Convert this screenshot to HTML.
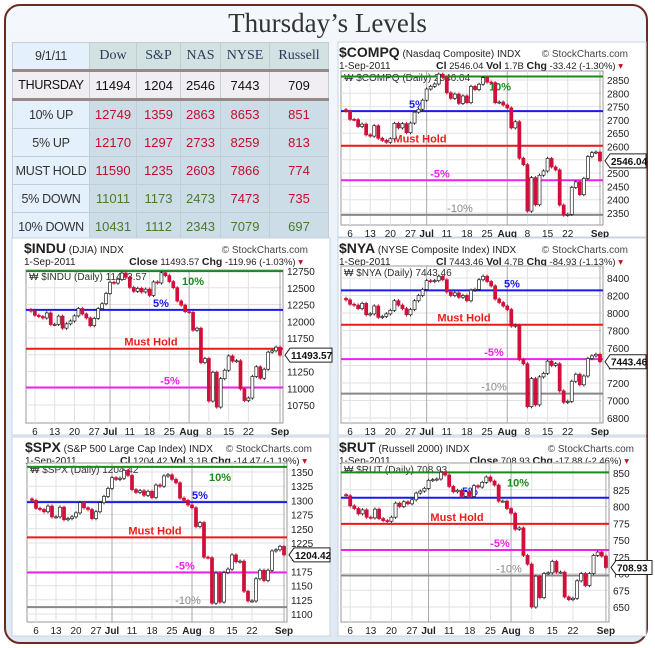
<!DOCTYPE html>
<html><head><meta charset="utf-8">
<style>
body{margin:0;width:655px;height:648px;overflow:hidden;background:#fff;font-family:"Liberation Sans",sans-serif;}
#frame{position:absolute;left:4px;top:4px;width:640px;height:636px;border:2px solid #6a2a20;border-radius:16px;background:linear-gradient(#f4f8fc,#dfe9f4);}
#title{position:absolute;left:0;top:8px;width:655px;text-align:center;font-family:"Liberation Serif",serif;font-size:27px;color:#333;}
table{position:absolute;left:12px;top:42px;border-collapse:collapse;width:316px;font-size:13px;table-layout:fixed;}
td{border:1px solid #c4ccd4;text-align:center;height:26px;padding:0;white-space:nowrap;overflow:hidden;}
td.h{font-family:"Liberation Serif",serif;font-size:14px;color:#2a3a5a;background:#d2e2e2;}
td.f{background:#e4f0fb;color:#333;font-size:12.5px;letter-spacing:-0.3px;}
tr.th td{background:#f1eef3;color:#111;border-top:3px solid #988;border-bottom:3px solid #988;}
td.r{color:#c0102a;background:#ccdde8;}
td.g{color:#4a7a2a;background:#ccdde8;}
svg{position:absolute;left:0;top:0;}
</style></head><body>
<div id="frame"></div>
<div id="title">Thursday’s Levels</div>
<table>
<colgroup><col style="width:77px"><col style="width:47px"><col style="width:44px"><col style="width:40px"><col style="width:49px"><col style="width:59px"></colgroup>
<tr><td class="f" style="height:26px">9/1/11</td><td class="h">Dow</td><td class="h">S&amp;P</td><td class="h">NAS</td><td class="h">NYSE</td><td class="h">Russell</td></tr>
<tr class="th"><td style="height:24px;font-size:12.5px;letter-spacing:-0.3px">THURSDAY</td><td>11494</td><td>1204</td><td>2546</td><td>7443</td><td>709</td></tr>
<tr><td class="f" style="height:27px">10% UP</td><td class="r">12749</td><td class="r">1359</td><td class="r">2863</td><td class="r">8653</td><td class="r">851</td></tr>
<tr><td class="f" style="height:27px">5% UP</td><td class="r">12170</td><td class="r">1297</td><td class="r">2733</td><td class="r">8259</td><td class="r">813</td></tr>
<tr><td class="f" style="height:27px">MUST HOLD</td><td class="r">11590</td><td class="r">1235</td><td class="r">2603</td><td class="r">7866</td><td class="r">774</td></tr>
<tr><td class="f" style="height:27px">5% DOWN</td><td class="g">11011</td><td class="g">1173</td><td class="g">2473</td><td class="r">7473</td><td class="r">735</td></tr>
<tr><td class="f" style="height:27px">10% DOWN</td><td class="g">10431</td><td class="g">1112</td><td class="g">2343</td><td class="g">7079</td><td class="g">697</td></tr>
</table>
<svg id="charts" width="655" height="648"></svg>
<script>
const xLabels=["6","13","20","27","Jul","11","18","25","Aug","8","15","22","Sep"];
const xLabelIdx=[1,6,11,16,20,25,30,35,40,45,50,55,63];
const induClose=[12151,12089,12070,12049,12124,11952,11953,12076,11897,11961,12004,12080,12190,12109,12050,11934,12043,12188,12261,12414,12582,12569,12626,12719,12657,12505,12446,12491,12437,12479,12385,12587,12571,12724,12681,12592,12501,12302,12240,12143,12132,11866,11896,11383,11444,10809,11239,10719,11143,11269,11482,11405,11410,10990,10817,10854,11176,11320,11149,11284,11539,11559,11613,11494];
const spxClose=[1300,1286,1284,1280,1290,1271,1271,1288,1266,1268,1271,1278,1296,1287,1284,1268,1280,1296,1307,1321,1340,1337,1339,1353,1344,1319,1314,1317,1309,1316,1305,1327,1325,1343,1345,1337,1331,1304,1300,1292,1287,1254,1261,1200,1199,1119,1172,1121,1173,1179,1204,1192,1193,1140,1123,1123,1162,1177,1159,1177,1211,1213,1219,1204];
const compqClose=[2733,2702,2701,2675,2684,2644,2639,2678,2631,2623,2616,2629,2687,2670,2686,2652,2688,2729,2740,2774,2816,2826,2835,2872,2860,2802,2781,2797,2762,2790,2765,2826,2814,2834,2859,2842,2840,2765,2767,2756,2745,2670,2693,2556,2532,2357,2483,2381,2492,2508,2555,2523,2512,2380,2342,2345,2446,2467,2419,2480,2562,2577,2579,2546];
const nyaClose=[8150,8100,8090,8050,8110,7980,7990,8080,7950,7960,7990,8030,8140,8090,8050,7980,8040,8140,8200,8270,8370,8360,8370,8420,8380,8240,8200,8230,8180,8200,8140,8260,8270,8380,8420,8360,8310,8160,8120,8080,8040,7850,7860,7470,7420,6930,7250,6950,7270,7310,7450,7400,7420,7110,6980,6990,7220,7300,7180,7280,7480,7510,7528,7443];
const rutClose=[816,801,797,789,795,784,783,796,782,779,778,784,805,800,807,804,810,820,823,827,839,840,841,851,847,830,822,824,815,822,815,831,829,836,844,838,832,808,808,797,790,766,768,727,714,650,696,664,700,701,718,702,702,665,661,663,689,700,682,700,727,732,726,709];
const induTicks=[12750,12500,12250,12000,11750,11500,11250,11000,10750];
const spxTicks=[1350,1325,1300,1275,1250,1225,1200,1175,1150,1125,1100];
const compqTicks=[2850,2800,2750,2700,2650,2600,2550,2500,2450,2400,2350];
const nyaTicks=[8400,8200,8000,7800,7600,7400,7200,7000,6800];
const rutTicks=[850,825,800,775,750,725,700,675,650];
const induLevels=[12749,12170,11590,11011,10431];
const spxLevels=[1359,1297,1235,1173,1112];
const compqLevels=[2863,2733,2603,2473,2343];
const nyaLevels=[8653,8259,7866,7473,7079];
const rutLevels=[851,813,774,735,697];
const levelNames=["10%","5%","Must Hold","-5%","-10%"];
const levelColors=["#1a8a1a","#1a1aee","#ee1a1a","#ee22ee","#888888"];

const charts=[
 {id:"compq",sym:"$COMPQ",desc:"(Nasdaq Composite)",pre:"Cl",mid:"2546.04",vol:"1.7B",chg:"-33.42 (-1.30%)",last:"2546.04",close:compqClose,ticks:compqTicks,levels:compqLevels,
  px:338,py:42,pw:308,ph:195,l:341,r:603,t:71,b:225,v1:2850,y1:80,v2:2350,y2:213,lblX:[500,417,420,440,460]},
 {id:"indu",sym:"$INDU",desc:"(DJIA)",pre:"Close",mid:"11493.57",vol:"",chg:"-119.96 (-1.03%)",last:"11493.57",close:induClose,ticks:induTicks,levels:induLevels,
  px:12,py:238,pw:318,ph:197,l:26,r:283,t:270,b:423,v1:12750,y1:271,v2:10750,y2:405,lblX:[193,161,151,170,175]},
 {id:"nya",sym:"$NYA",desc:"(NYSE Composite Index)",pre:"Cl",mid:"7443.46",vol:"4.7B",chg:"-84.93 (-1.13%)",last:"7443.46",close:nyaClose,ticks:nyaTicks,levels:nyaLevels,
  px:338,py:238,pw:308,ph:197,l:341,r:603,t:266,b:423,v1:8400,y1:278,v2:6800,y2:418,lblX:[500,512,464,494,494]},
 {id:"spx",sym:"$SPX",desc:"(S&P 500 Large Cap Index)",pre:"Cl",mid:"1204.42",vol:"3.1B",chg:"-14.47 (-1.19%)",last:"1204.42",close:spxClose,ticks:spxTicks,levels:spxLevels,
  px:12,py:437,pw:318,ph:199,l:27,r:287,t:463,b:622,v1:1350,y1:472,v2:1100,y2:614,lblX:[220,200,155,185,188]},
 {id:"rut",sym:"$RUT",desc:"(Russell 2000)",pre:"Close",mid:"708.93",vol:"",chg:"-17.88 (-2.46%)",last:"708.93",close:rutClose,ticks:rutTicks,levels:rutLevels,
  px:338,py:437,pw:308,ph:199,l:341,r:609,t:463,b:622,v1:850,y1:473,v2:650,y2:607,lblX:[518,470,457,500,509]}
];
const NS="http://www.w3.org/2000/svg";
const svg=document.getElementById("charts");
function mk(tag,attrs,parent,text){const e=document.createElementNS(NS,tag);for(const k in attrs)e.setAttribute(k,attrs[k]);if(text!==undefined)e.textContent=text;(parent||svg).appendChild(e);return e;}
charts.forEach(c=>{
 const g=mk("g",{});
 
 
 const yS=v=>c.y1+(v-c.v1)*(c.y2-c.y1)/(c.v2-c.v1);
 const n=c.close.length;const step=(c.r-c.l-4)/n;
 const xS=i=>c.l+3+i*step+step/2;
 const panel=mk("rect",{x:c.px,y:c.py,width:c.pw,height:c.ph,fill:"#fff",stroke:"#c8d4e0"},g);
 
 
 const t1=mk("text",{x:c.l-2,y:c.py+15,"font-size":"10","fill":"#222"},g);
 mk("tspan",{"font-size":"14","font-weight":"bold"},t1,c.sym);
 mk("tspan",{},t1," "+c.desc+" INDX");
 
 
 mk("text",{x:c.r+25,y:c.py+15,"font-size":"10","fill":"#444","text-anchor":"end"},g,"© StockCharts.com");
 mk("text",{x:c.l-2,y:c.py+27,"font-size":"10","fill":"#222"},g,"1-Sep-2011");
 const t2=mk("text",{x:c.r+20,y:c.py+27,"font-size":"9.5","fill":"#222","text-anchor":"end"},g);
 mk("tspan",{"font-weight":"bold","font-size":"10.5"},t2,c.pre);
 mk("tspan",{},t2," "+c.mid+"  ");
 if(c.vol){mk("tspan",{"font-weight":"bold","font-size":"10.5"},t2,"Vol");mk("tspan",{},t2," "+c.vol+"  ");}
 mk("tspan",{"font-weight":"bold","font-size":"10.5"},t2,"Chg");
 mk("tspan",{},t2," "+c.chg+" ");
 mk("tspan",{fill:"#c0102a"},t2,"▾");
 mk("rect",{x:c.l,y:c.t,width:c.r-c.l,height:c.b-c.t,fill:"#fff",stroke:"#999"},g);
 c.ticks.forEach(v=>{const y=yS(v);mk("line",{x1:c.l,x2:c.r,y1:y,y2:y,stroke:"#e2e2e2"},g);
  const tl=mk("text",{x:c.r+4,y:y+4,"font-size":"10","fill":"#222"},g,String(v));
  
  });
 xLabelIdx.forEach((ix,k)=>{const x=xS(ix);const month=["Jul","Aug","Sep"].includes(xLabels[k]);
  mk("line",{x1:x,x2:x,y1:c.t,y2:c.b,stroke:month?"#aaa":"#e2e2e2"},g);
  const xl=mk("text",{x:x,y:c.b+12,"font-size":"10","fill":"#222","text-anchor":"middle","font-weight":month?"bold":"normal"},g,xLabels[k]);
  
  });
 mk("text",{x:c.l+3,y:c.t+10,"font-size":"10","fill":"#333"},g,"₩ "+c.sym+" (Daily) "+c.last);
 c.levels.forEach((v,k)=>{const y=yS(v);if(y<c.t-1||y>c.b+1)return;
  const ln=mk("line",{x1:c.l,x2:c.r,y1:y,y2:y,stroke:levelColors[k],"stroke-width":"2"},g);
  
  
  mk("text",{x:c.lblX[k],y:k==0?y+14:y-3,"font-size":"11","font-weight":k==4?"normal":"bold","fill":levelColors[k],"text-anchor":"middle"},g,levelNames[k]);});
 for(let i=0;i<n;i++){const cl=c.close[i];const op=i?c.close[i-1]:cl*1.002;const up=cl>=op;
  const hi=Math.max(op,cl),lo=Math.min(op,cl);const x=xS(i);
  const wick=(c.v1-c.v2)*0.012;
  mk("line",{x1:x,x2:x,y1:yS(hi+wick),y2:yS(lo-wick),stroke:up?"#222":"#d0103a"},g);
  const cr=mk("rect",{x:x-step*0.38,y:yS(hi),width:step*0.76,height:Math.max(1,yS(lo)-yS(hi)),fill:up?"#fff":"#d0103a",stroke:up?"#222":"#d0103a","stroke-width":"0.7"},g);
  
  }
 const ly=yS(c.close[n-1]);
 mk("path",{d:`M${c.r+2} ${ly} l5 -7 h${c.id=="indu"?42:36} v14 h${c.id=="indu"?-42:-36} z`,fill:"#fff",stroke:"#222"},g);
 mk("text",{x:c.r+8,y:ly+4,"font-size":"10","font-weight":"bold","fill":"#111"},g,c.last);
});
</script>
</body></html>
